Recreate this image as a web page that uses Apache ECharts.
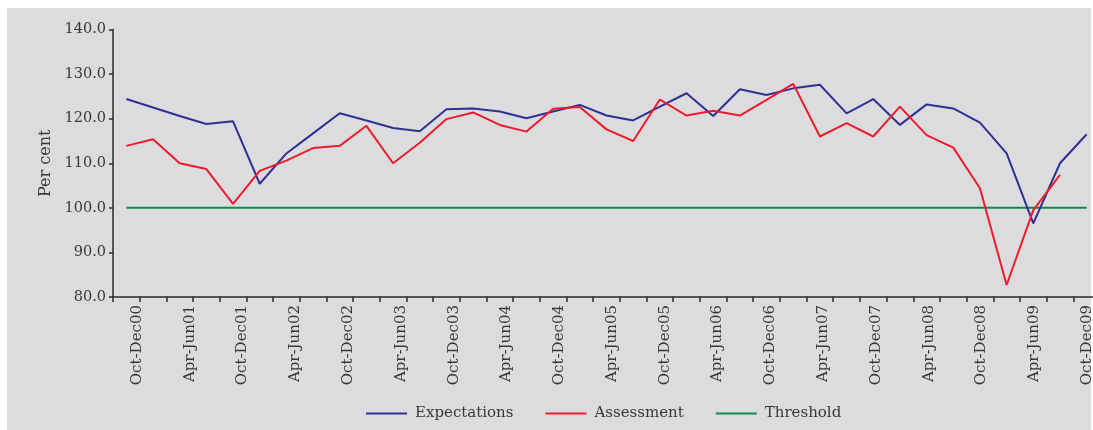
<!DOCTYPE html>
<html>
<head>
<meta charset="utf-8">
<script src="https://cdn.jsdelivr.net/npm/echarts@6/dist/echarts.min.js"></script>
<style>
html,body{margin:0;padding:0;background:#ffffff;}
#bg{position:absolute;left:7px;top:8px;width:1084px;height:422px;background:#dcdcde;}
#chart{position:absolute;left:0;top:0;width:1093px;height:430px;}
</style>
</head>
<body>
<div id="bg"></div>
<div id="chart"></div>
<script>
const categories = [
  'Oct-Dec00',
  'Jan-Mar01','Apr-Jun01','Jul-Sep01','Oct-Dec01',
  'Jan-Mar02','Apr-Jun02','Jul-Sep02','Oct-Dec02',
  'Jan-Mar03','Apr-Jun03','Jul-Sep03','Oct-Dec03',
  'Jan-Mar04','Apr-Jun04','Jul-Sep04','Oct-Dec04',
  'Jan-Mar05','Apr-Jun05','Jul-Sep05','Oct-Dec05',
  'Jan-Mar06','Apr-Jun06','Jul-Sep06','Oct-Dec06',
  'Jan-Mar07','Apr-Jun07','Jul-Sep07','Oct-Dec07',
  'Jan-Mar08','Apr-Jun08','Jul-Sep08','Oct-Dec08',
  'Jan-Mar09','Apr-Jun09','Jul-Sep09','Oct-Dec09'
];
const expectations = [
  124.4,
  122.5, 120.6, 118.8, 119.4,
  105.4, 112.2, 116.7, 121.2,
  119.6, 117.9, 117.2, 122.1,
  122.3, 121.6, 120.1, 121.6,
  123.1, 120.7, 119.6, 122.7,
  125.7, 120.6, 126.6, 125.3,
  126.8, 127.6, 121.2, 124.4,
  118.6, 123.2, 122.3, 119.1,
  112.2, 96.5, 110.0, 116.5
];
const assessment = [
  113.9,
  115.4, 110.0, 108.7, 100.9,
  108.3, 110.6, 113.4, 113.9,
  118.4, 110.0, 114.6, 119.9,
  121.4, 118.6, 117.1, 122.2,
  122.6, 117.6, 115.0, 124.3,
  120.7, 121.8, 120.7, 124.2,
  127.8, 116.0, 119.0, 116.0,
  122.7, 116.3, 113.5, 104.4,
  82.7, 99.5, 107.4, null
];
const threshold = categories.map(() => 100);
const yTicks = { min: 80, max: 140, step: 10 };

const FONT = 'DejaVu Serif';
const TXT = '#383838';
const AX = '#2a2a2a';

const chart = echarts.init(document.getElementById('chart'), null, { renderer: 'canvas' });
chart.setOption({
  backgroundColor: 'transparent',
  animation: false,
  grid: [
    { left: 113, right: -7, top: 29.5, bottom: 133, containLabel: false, outerBoundsMode: 'none' },
    { left: 137, right: 6, top: 29.5, bottom: 133, containLabel: false, outerBoundsMode: 'none' }
  ],
  legend: {
    left: 366, top: 406, padding: 0,
    icon: 'rect',
    itemWidth: 41, itemHeight: 2, itemGap: 32,
    textStyle: { fontFamily: FONT, fontSize: 15, color: TXT, padding: [0, 0, 0, 3] },
    data: ['Expectations', 'Assessment', 'Threshold']
  },
  xAxis: [
    {
      type: 'category', gridIndex: 0,
      data: categories,
      boundaryGap: true,
      axisLine: { lineStyle: { color: AX, width: 1.5 } },
      axisTick: { show: true, interval: 0, length: 5, lineStyle: { color: AX, width: 1.5 } },
      axisLabel: { show: false },
      splitLine: { show: false }
    },
    {
      type: 'category', gridIndex: 1,
      data: categories,
      boundaryGap: false,
      axisLine: { show: false },
      axisTick: { show: false },
      axisLabel: {
        interval: 1, rotate: 90, margin: 8,
        fontFamily: FONT, fontSize: 15, color: TXT
      },
      splitLine: { show: false }
    }
  ],
  yAxis: [
    {
      type: 'value', gridIndex: 0,
      min: yTicks.min, max: yTicks.max, interval: yTicks.step,
      name: 'Per cent',
      nameLocation: 'middle',
      nameGap: 58,
      nameTextStyle: { fontFamily: FONT, fontSize: 16, color: TXT },
      axisLine: { show: true, lineStyle: { color: AX, width: 1.5 } },
      axisTick: { show: true, length: 4, lineStyle: { color: AX, width: 1.5 } },
      axisLabel: {
        margin: 7, fontFamily: FONT, fontSize: 14.5, color: TXT,
        formatter: v => v.toFixed(1)
      },
      splitLine: { show: false }
    },
    {
      type: 'value', gridIndex: 1, show: false,
      min: yTicks.min, max: yTicks.max, interval: yTicks.step,
      splitLine: { show: false }
    }
  ],
  series: [
    {
      name: 'Expectations', type: 'line', data: expectations,
      xAxisIndex: 0, yAxisIndex: 0,
      symbol: 'none', lineStyle: { color: '#2e3192', width: 2 }, itemStyle: { color: '#2e3192' }, z: 3
    },
    {
      name: 'Assessment', type: 'line', data: assessment,
      xAxisIndex: 0, yAxisIndex: 0,
      symbol: 'none', lineStyle: { color: '#ec1c2c', width: 2 }, itemStyle: { color: '#ec1c2c' }, z: 4
    },
    {
      name: 'Threshold', type: 'line', data: threshold,
      xAxisIndex: 0, yAxisIndex: 0,
      symbol: 'none', lineStyle: { color: '#0e8a4c', width: 2 }, itemStyle: { color: '#0e8a4c' }, z: 2
    }
  ]
});
</script>
</body>
</html>
